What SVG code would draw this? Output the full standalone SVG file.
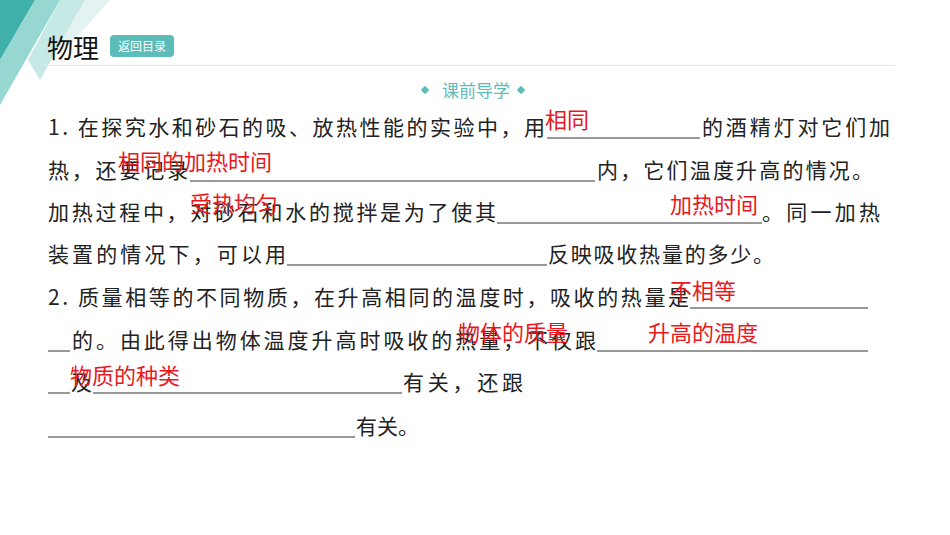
<svg xmlns="http://www.w3.org/2000/svg" width="950" height="535" viewBox="0 0 950 535">
<style>
.b{font-family:"Noto Sans CJK SC","Liberation Sans",sans-serif;font-size:21px;fill:#222}
.r{font-family:"Noto Sans CJK SC","Liberation Sans",sans-serif;font-size:22px;fill:#e8191e}
.u{stroke:#333;stroke-width:1}
</style>
<rect width="950" height="535" fill="#fff"/>
<polygon points="0,0 35,0 0,60" fill="#3fb0aa"/>
<polygon points="35,0 0,60 0,105 60,0" fill="#7ccdc7" opacity="0.8"/>
<polygon points="60,0 85,0 40,80 28,60" fill="#b8e3e0" opacity="0.8"/>
<polygon points="85,0 110,0 70,45 58,48" fill="#e2f3f2"/>
<text x="47" y="58" style="font-family:'Noto Sans CJK SC',sans-serif;font-size:26px;fill:#111">物理</text>
<rect x="110" y="35" width="64" height="22" rx="4" fill="#5bbcb8"/>
<text x="142" y="51" text-anchor="middle" style="font-family:'Noto Sans CJK SC',sans-serif;font-size:12px;fill:#fff">返回目录</text>
<line x1="40" y1="65.5" x2="895" y2="65.5" stroke="#e5e5e5"/>
<rect x="422" y="87" width="6" height="6" transform="rotate(45 425 90)" fill="#5bbcb8"/>
<rect x="518" y="87" width="6" height="6" transform="rotate(45 521 90)" fill="#5bbcb8"/>
<text x="476" y="97" text-anchor="middle" style="font-family:'Noto Sans CJK SC',sans-serif;font-size:17px;fill:#5bbcb8">课前导学</text>
<g class="b">
<text x="48" y="135" textLength="497" lengthAdjust="spacing">1. 在探究水和砂石的吸、放热性能的实验中，用</text>
<text x="702" y="135" textLength="188" lengthAdjust="spacing">的酒精灯对它们加</text>
<text x="48" y="178" textLength="140" lengthAdjust="spacing">热，还要记录</text>
<text x="597" y="178" textLength="276" lengthAdjust="spacing">内，它们温度升高的情况。</text>
<text x="48" y="220" textLength="448" lengthAdjust="spacing">加热过程中，对砂石和水的搅拌是为了使其</text>
<text x="762" y="220" textLength="118" lengthAdjust="spacing">。同一加热</text>
<text x="48" y="262" textLength="238" lengthAdjust="spacing">装置的情况下，可以用</text>
<text x="548" y="262" textLength="226" lengthAdjust="spacing">反映吸收热量的多少。</text>
<text x="48" y="305" textLength="641" lengthAdjust="spacing">2. 质量相等的不同物质，在升高相同的温度时，吸收的热量是</text>
<text x="72" y="348" textLength="524" lengthAdjust="spacing">的。由此得出物体温度升高时吸收的热量，不仅跟</text>
<text x="71" y="390">及</text>
<text x="403" y="390" textLength="120" lengthAdjust="spacing">有关，还跟</text>
<text x="356" y="434">有关。</text>
</g>
<g class="u">
<line x1="547" y1="138" x2="700" y2="138"/>
<line x1="190" y1="181" x2="595" y2="181"/>
<line x1="497" y1="223" x2="762" y2="223"/>
<line x1="287" y1="265" x2="547" y2="265"/>
<line x1="690" y1="308" x2="868" y2="308"/>
<line x1="48" y1="351" x2="70" y2="351"/>
<line x1="597" y1="351" x2="868" y2="351"/>
<line x1="48" y1="393" x2="70" y2="393"/>
<line x1="93" y1="393" x2="402" y2="393"/>
<line x1="48" y1="437" x2="355" y2="437"/>
</g>
<g class="r">
<text x="545" y="128">相同</text>
<text x="118" y="170">相同的加热时间</text>
<text x="190" y="212">受热均匀</text>
<text x="670" y="213">加热时间</text>
<text x="670" y="299">不相等</text>
<text x="458" y="341">物体的质量</text>
<text x="648" y="341">升高的温度</text>
<text x="70" y="384">物质的种类</text>
</g>
</svg>
